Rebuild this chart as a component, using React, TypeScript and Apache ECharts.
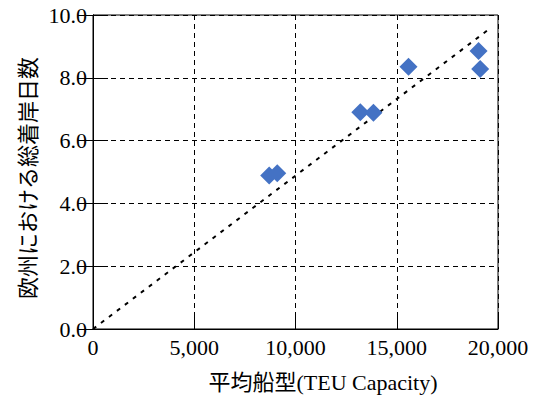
import React, { useEffect, useRef } from "react";
import * as echarts from "echarts";

const shipSizeTEU = [8700, 9100, 13200, 13850, 15580, 19040, 19120];
const berthDays = [4.89, 4.96, 6.90, 6.89, 8.35, 8.85, 8.28];
const trendX = [0, 19620];
const trendY = [0, 9.58];
const xTitle = "平均船型(TEU Capacity)";
const yTitle = "欧州における総着岸日数";

const NUM_FONT = "Times New Roman";
const FONT = "Liberation Serif, Noto Sans CJK JP, serif";

export default function App() {
  const ref = useRef<HTMLDivElement>(null);
  useEffect(() => {
    if (!ref.current) return;
    const chart = echarts.init(ref.current, undefined, { renderer: "svg" });
    const points = shipSizeTEU.map((x, i) => [x, berthDays[i]]);
    const trend = trendX.map((x, i) => [x, trendY[i]]);
    chart.setOption({
      animation: false,
      backgroundColor: "#fff",
      grid: {
        left: 93,
        right: 41,
        top: 15,
        bottom: 68,
        show: true,
        borderColor: "#000",
        borderWidth: 1,
        backgroundColor: "transparent",
      },
      xAxis: {
        type: "value",
        min: 0,
        max: 20000,
        interval: 5000,
        axisLine: { show: true, onZero: false, lineStyle: { color: "#000", width: 1 } },
        axisTick: { show: true, inside: true, length: 15, lineStyle: { color: "#000" } },
        splitLine: { show: true, lineStyle: { color: "#000", type: [5, 4], width: 1 } },
        axisLabel: {
          color: "#000",
          fontFamily: NUM_FONT,
          fontSize: 22,
          margin: 7,
          formatter: (v: number) => v.toLocaleString("en-US"),
        },
      },
      yAxis: [
        {
          type: "value",
          min: 0,
          max: 10,
          interval: 2,
          axisLine: { show: true, onZero: false, lineStyle: { color: "#000", width: 1 } },
          axisTick: { show: true, inside: true, length: 15, lineStyle: { color: "#000" } },
          splitLine: { show: true, lineStyle: { color: "#000", type: [5, 4], width: 1 } },
          axisLabel: {
            color: "#000",
            fontFamily: NUM_FONT,
            fontSize: 22,
            margin: 6,
            formatter: (v: number) => v.toFixed(1),
          },
        },
        {
          type: "value",
          min: 0,
          max: 10,
          interval: 2,
          position: "right",
          axisLine: { show: true, lineStyle: { color: "#000", width: 1 } },
          axisTick: { show: true, inside: true, length: 15, lineStyle: { color: "#000" } },
          splitLine: { show: false },
          axisLabel: { show: false },
        },
      ],
      graphic: [
        {
          type: "text",
          x: 323,
          y: 382,
          style: {
            text: xTitle,
            fontFamily: FONT,
            fontSize: 22,
            fill: "#000",
            align: "center",
            verticalAlign: "middle",
          },
        },
        {
          type: "text",
          x: 28,
          y: 178,
          rotation: Math.PI / 2,
          style: {
            text: yTitle,
            fontFamily: FONT,
            fontSize: 22,
            fill: "#000",
            align: "center",
            verticalAlign: "middle",
          },
        },
      ],
      series: [
        {
          type: "line",
          data: trend,
          showSymbol: false,
          symbol: "none",
          lineStyle: { color: "#000", width: 2, type: [4, 6] },
          z: 3,
        },
        {
          type: "scatter",
          data: points,
          symbol: "diamond",
          symbolSize: [18, 18],
          itemStyle: { color: "#4472C4", opacity: 1 },
          z: 4,
        },
      ],
    });
    return () => chart.dispose();
  }, []);
  return <div ref={ref} style={{ width: 539, height: 397, position: "absolute", left: 0, top: 0 }} />;
}
